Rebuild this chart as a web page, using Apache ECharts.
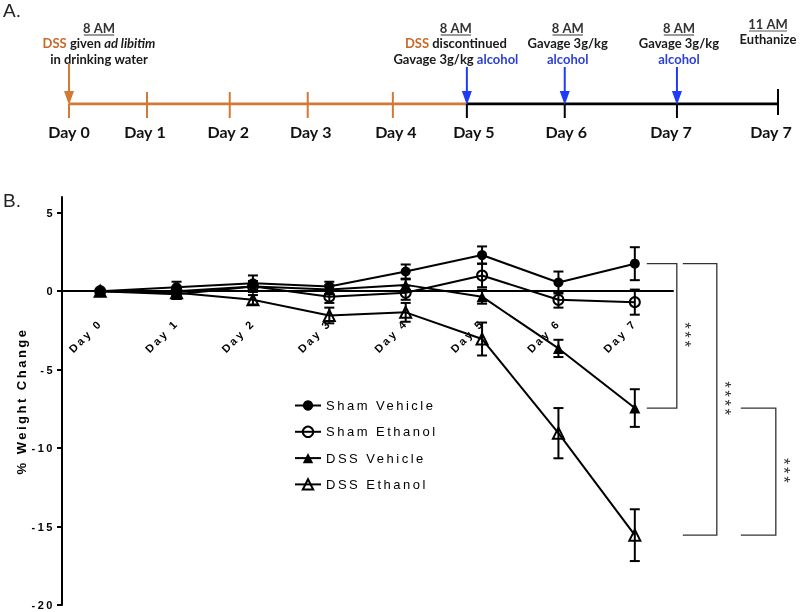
<!DOCTYPE html>
<html><head><meta charset="utf-8">
<script src="https://cdn.jsdelivr.net/npm/echarts@6/dist/echarts.min.js"></script>
<style>
html,body{margin:0;padding:0;background:#fff;}
#wrap{position:relative;width:800px;height:612px;overflow:hidden;}
#chartB,#chartA{position:absolute;left:0;top:0;width:800px;height:612px;}
#chartB text{letter-spacing:2.5px;}
#chartB svg{will-change:transform;}
</style></head><body>
<div id="wrap"><div id="chartB"></div><div id="chartA"></div></div>
<script>
// ---------- Panel B data ----------
const days = ['Day 0','Day 1','Day 2','Day 3','Day 4','Day 5','Day 6','Day 7'];
const groupNames = ['Sham Vehicle','Sham Ethanol','DSS Vehicle','DSS Ethanol'];
const shamVehicle    = [0, 0.25, 0.5, 0.3, 1.25, 2.3, 0.55, 1.75];
const shamVehicleSem = [0, 0.35, 0.5, 0.3, 0.45, 0.55, 0.7, 1.05];
const shamEthanol    = [0, 0.0, 0.3, -0.35, -0.1, 1.0, -0.55, -0.7];
const shamEthanolSem = [0, 0.3, 0.35, 0.4, 0.45, 0.75, 0.5, 0.8];
const dssVehicle     = [0, -0.2, 0.3, 0.1, 0.4, -0.35, -3.65, -7.45];
const dssVehicleSem  = [0, 0.3, 0.3, 0.3, 0.35, 0.45, 0.55, 1.2];
const dssEthanol     = [0, -0.1, -0.55, -1.55, -1.35, -3.05, -9.05, -15.55];
const dssEthanolSem  = [0, 0.25, 0.3, 0.5, 0.6, 1.05, 1.6, 1.65];
const yTicks = [-20, -15, -10, -5, 0, 5];
const yMin = -20, yMax = 6;
const yAxisTitle = '% Weight Change';
// significance comparisons at Day 7 (indices into groupNames)
const comparisons = [
  {a: 0, b: 2, stars: '***'},
  {a: 0, b: 3, stars: '****'},
  {a: 2, b: 3, stars: '***'}
];

// ---------- Panel A data ----------
const timelineLabels = ['Day 0','Day 1','Day 2','Day 3','Day 4','Day 5','Day 6','Day 7','Day 7'];
const timelinePos = [0, 0.98, 2.02, 3.0, 4.07, 5.0, 6.23, 7.64, 8.91];
const dssStopIndex = 5;
const eventAt    = [0, 5, 6, 7, 8];
const eventTime  = ['8 AM', '8 AM', '8 AM', '8 AM', '11 AM'];
const eventLines = [
  ['{o|DSS} given {i|ad libitim}', 'in drinking water'],
  ['{o|DSS} discontinued', 'Gavage 3g/kg {b|alcohol}'],
  ['Gavage 3g/kg', '{b|alcohol}'],
  ['Gavage 3g/kg', '{b|alcohol}'],
  ['Euthanize']
];
const eventArrow = ['dss', 'alcohol', 'alcohol', 'alcohol', null];

// ---------- styles / layout ----------
const ORANGE = '#D27A34', ORANGE_TXT = '#C8692A', BLUE = '#1E3CF5', BLUE_TXT = '#2A3FD8';
const FONT_B = 'Liberation Sans, Arial, sans-serif';
const FONT_A = 'Lato, sans-serif';
const groupStyle = [
  {symbol: 'circle', size: 10, filled: true},
  {symbol: 'circle', size: 10, filled: false},
  {symbol: 'triangle', size: 11, filled: true},
  {symbol: 'triangle', size: 11, filled: false}
];
const means = [shamVehicle, shamEthanol, dssVehicle, dssEthanol];
const sems = [shamVehicleSem, shamEthanolSem, dssVehicleSem, dssEthanolSem];

// ================= Chart B =================
const chartB = echarts.init(document.getElementById('chartB'), null, {renderer: 'svg'});
const GRID_B = {left: 62, right: 127, top: 197, bottom: 7};
const gridH = 612 - GRID_B.top - GRID_B.bottom;
const zeroFromBottom = gridH * (0 - yMin) / (yMax - yMin);

function errorBarRender(params, api) {
  const i = api.value(0);
  const lo = api.coord([i, api.value(1)]);
  const hi = api.coord([i, api.value(2)]);
  if (Math.abs(lo[1] - hi[1]) < 0.5) return null;
  const cap = 5;
  const st = {stroke: '#000', lineWidth: 2};
  return {type: 'group', children: [
    {type: 'line', shape: {x1: lo[0], y1: lo[1], x2: hi[0], y2: hi[1]}, style: st},
    {type: 'line', shape: {x1: lo[0] - cap, y1: lo[1], x2: lo[0] + cap, y2: lo[1]}, style: st},
    {type: 'line', shape: {x1: hi[0] - cap, y1: hi[1], x2: hi[0] + cap, y2: hi[1]}, style: st}
  ]};
}

const bracketX = [[12, 42], [48, 82], [106, 141]];
function bracketRender(params, api) {
  const k = params.dataIndex;
  const pA = api.coord([api.value(0), api.value(1)]);
  const pB = api.coord([api.value(0), api.value(2)]);
  const x0 = pA[0] + bracketX[k][0], x1 = pA[0] + bracketX[k][1];
  const st = {stroke: '#333', lineWidth: 1.3, fill: null};
  return {type: 'group', children: [
    {type: 'polyline', shape: {points: [[x0, pA[1]], [x1, pA[1]], [x1, pB[1]], [x0, pB[1]]]}, style: st},
    {type: 'text', x: x1 + 8, y: (pA[1] + pB[1]) / 2, rotation: -Math.PI / 2,
      style: {text: comparisons[k].stars, align: 'center', verticalAlign: 'middle',
        fontSize: 17, fontFamily: FONT_B, fill: '#333'}}
  ]};
}

const seriesB = [];
groupNames.forEach((name, g) => {
  const s = groupStyle[g];
  seriesB.push({
    type: 'line', name: name, data: means[g], symbol: s.symbol, symbolSize: s.size,
    showSymbol: true, z: 4,
    lineStyle: {color: '#000', width: 2},
    itemStyle: s.filled ? {color: '#000', borderColor: '#000', borderWidth: 0}
                        : {color: 'rgba(255,255,255,0)', borderColor: '#000', borderWidth: 2},
    emphasis: {disabled: true}
  });
  seriesB.push({
    type: 'custom', renderItem: errorBarRender, z: 3, silent: true,
    itemStyle: {color: '#000'},
    encode: {x: 0, y: [1, 2]},
    data: means[g].map((m, i) => [i, m - sems[g][i], m + sems[g][i]])
  });
});
seriesB.push({
  type: 'custom', renderItem: bracketRender, clip: false, silent: true, z: 5,
  itemStyle: {color: '#333'},
  encode: {x: 0, y: [1, 2]},
  data: comparisons.map(c => [days.length - 1, means[c.a][days.length - 1], means[c.b][days.length - 1]])
});

chartB.setOption({
  animation: false,
  grid: Object.assign({outerBoundsMode: 'none', containLabel: false}, GRID_B),
  legend: {
    data: groupNames, orient: 'vertical', left: 289, top: 394,
    itemWidth: 26, itemHeight: 13, itemGap: 13.3,
    textStyle: {fontSize: 13, fontFamily: FONT_B, color: '#000'},
    selectedMode: false
  },
  xAxis: {
    type: 'category', data: days, boundaryGap: true, position: 'bottom',
    offset: -zeroFromBottom,
    axisLine: {onZero: false, lineStyle: {color: '#000', width: 2}},
    axisTick: {show: false},
    axisLabel: {rotate: 45, margin: 30, fontSize: 11, fontWeight: 'bold', fontFamily: FONT_B, color: '#000'},
    splitLine: {show: false}
  },
  yAxis: {
    type: 'value', min: yMin, max: yMax,
    name: yAxisTitle, nameLocation: 'middle', nameGap: 33,
    nameTextStyle: {fontSize: 13, fontWeight: 'bold', fontFamily: FONT_B, color: '#000'},
    axisLine: {show: true, onZero: false, lineStyle: {color: '#000', width: 2}},
    axisTick: {show: true, length: 5, lineStyle: {color: '#000', width: 2}, customValues: yTicks},
    axisLabel: {customValues: yTicks, fontSize: 11, fontWeight: 'bold', fontFamily: FONT_B, color: '#000', margin: 7},
    splitLine: {show: false}
  },
  series: seriesB
});

// ================= Chart A =================
const chartA = echarts.init(document.getElementById('chartA'));
const labelShift = [0, -2, -1.5, 3, 3, 7, 1.5, -6, -7];
const eventDx = [30, -11, 3, 2, -10];
const eventDy = [0, 0, 0, 0, -4];
const FS_A = 13;

function tickRender(params, api) {
  const i = api.value(2);
  const p = api.coord([api.value(0), 0]);
  const x = p[0], y = p[1];
  const color = i < dssStopIndex ? ORANGE : '#000';
  const hasArrow = eventAt.some((e, k) => e === i && eventArrow[k]);
  const isEnd = i === timelinePos.length - 1;
  let y1 = hasArrow ? y : y - 12, y2 = y + 14;
  if (isEnd) { y1 = y - 15; y2 = y + 11; }
  return {type: 'group', children: [
    {type: 'line', shape: {x1: x, y1: y1, x2: x, y2: y2}, style: {stroke: color, lineWidth: 2}},
    {type: 'text', style: {text: timelineLabels[i], x: x + labelShift[i], y: y + 29, align: 'center',
      verticalAlign: 'middle', fontSize: 16, fontWeight: 'bold', fontFamily: FONT_A, fill: '#111'}}
  ]};
}

const richA = {
  o: {fill: ORANGE_TXT, fontSize: FS_A, fontWeight: 'bold', fontFamily: FONT_A},
  i: {fill: '#1a1a1a', fontSize: FS_A, fontWeight: 'bold', fontStyle: 'italic', fontFamily: FONT_A},
  b: {fill: BLUE_TXT, fontSize: FS_A, fontWeight: 'bold', fontFamily: FONT_A}
};

function eventRender(params, api) {
  const k = api.value(2);
  const p = api.coord([api.value(0), 0]);
  const x = p[0], y = p[1];
  const tx = x + eventDx[k], ty = y + eventDy[k];
  const children = [];
  const timeW = eventTime[k].length * 7.6;
  children.push({type: 'text', style: {text: eventTime[k], x: tx, y: ty - 75, align: 'center', verticalAlign: 'middle',
    fontSize: FS_A, fontWeight: 'bold', fontFamily: FONT_A, fill: '#333'}});
  children.push({type: 'line', shape: {x1: tx - timeW / 2, y1: ty - 69, x2: tx + timeW / 2, y2: ty - 69},
    style: {stroke: '#555', lineWidth: 1.2}});
  eventLines[k].forEach((ln, j) => {
    children.push({type: 'text', style: {text: ln, x: tx, y: ty - 60 + j * 15.5, align: 'center', verticalAlign: 'middle',
      fontSize: FS_A, fontWeight: 'bold', fontFamily: FONT_A, fill: '#1a1a1a', rich: richA}});
  });
  if (eventArrow[k]) {
    const c = eventArrow[k] === 'dss' ? ORANGE : BLUE;
    const top = eventArrow[k] === 'dss' ? y - 41 : y - 37;
    children.push({type: 'line', shape: {x1: x, y1: top, x2: x, y2: y - 10}, style: {stroke: c, lineWidth: 2}});
    children.push({type: 'polygon', shape: {points: [[x - 5, y - 13], [x + 5, y - 13], [x, y + 1]]}, style: {fill: c}});
  }
  return {type: 'group', children: children};
}

chartA.setOption({
  animation: false,
  grid: {left: 69, right: 22, top: 94, height: 10, outerBoundsMode: 'none'},
  xAxis: {type: 'value', min: 0, max: timelinePos[timelinePos.length - 1], show: false},
  yAxis: {type: 'value', min: 0, max: 1, show: false},
  graphic: [
    {type: 'text', left: 3, top: 2, style: {text: 'A.', fontSize: 19, fontFamily: FONT_B, fill: '#222'}},
    {type: 'text', left: 3, top: 192, style: {text: 'B.', fontSize: 19, fontFamily: FONT_B, fill: '#222'}}
  ],
  series: [
    {type: 'line', data: [[timelinePos[0], 0], [timelinePos[dssStopIndex], 0]], symbol: 'none',
      lineStyle: {color: ORANGE, width: 3}, z: 2, silent: true},
    {type: 'line', data: [[timelinePos[dssStopIndex], 0], [timelinePos[timelinePos.length - 1], 0]], symbol: 'none',
      lineStyle: {color: '#000', width: 3}, z: 2, silent: true},
    {type: 'custom', renderItem: tickRender, clip: false, silent: true, z: 3,
      data: timelinePos.map((p, i) => [p, 0, i])},
    {type: 'custom', renderItem: eventRender, clip: false, silent: true, z: 4,
      data: eventAt.map((a, k) => [timelinePos[a], 0, k])}
  ]
});
</script>
</body></html>
